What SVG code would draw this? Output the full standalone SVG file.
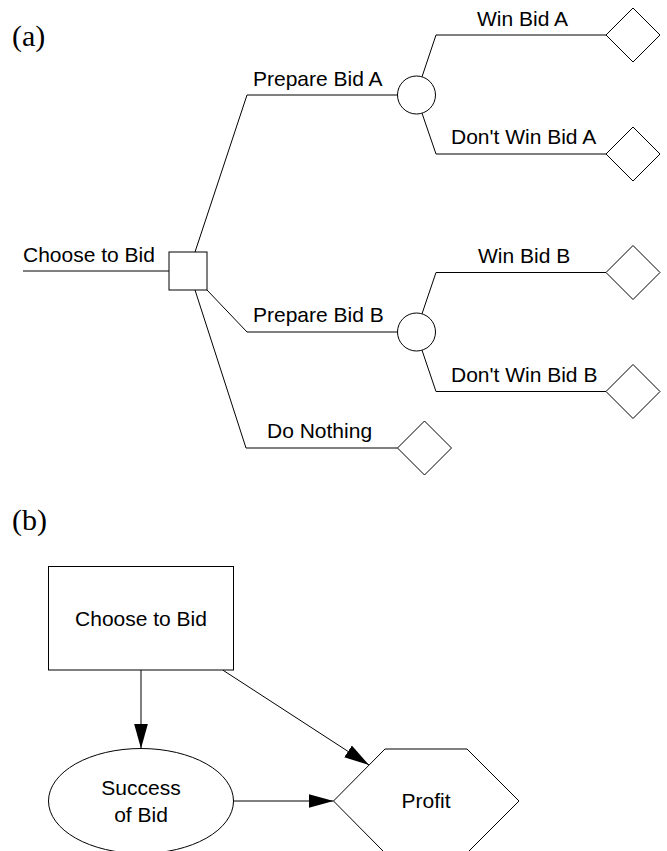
<svg xmlns="http://www.w3.org/2000/svg" width="667" height="851" viewBox="0 0 667 851">
<style>
.ln{fill:none;stroke:#000;stroke-width:1}
.nd{fill:#fff;stroke:#000;stroke-width:1}
.t{font-family:"Liberation Sans",Arial,sans-serif;font-size:21px;fill:#000}
.tc{font-family:"Liberation Sans",Arial,sans-serif;font-size:21px;fill:#000;text-anchor:middle}
.lab{font-family:"Liberation Serif","Times New Roman",serif;font-size:30px;fill:#000}
</style>
<defs>
<marker id="ah" markerUnits="userSpaceOnUse" markerWidth="26" markerHeight="16" refX="25" refY="7" orient="auto">
<path d="M0,0 L25,7 L0,14 Z" fill="#000"/>
</marker>
</defs>
<rect width="667" height="851" fill="#fff"/>
<text class="lab" x="12" y="46">(a)</text>
<text class="lab" x="12" y="530">(b)</text>
<g id="connectors">
<path class="ln" d="M23,271 H169"/>
<path class="ln" d="M195,252 L247,95 H397.5"/>
<path class="ln" d="M207,290 L247,332 H397.5"/>
<path class="ln" d="M195,290 L246,448 H397.5"/>
<path class="ln" d="M422,76.8 L436,35 H606"/>
<path class="ln" d="M422,113.2 L436,154 H606"/>
<path class="ln" d="M422,313.8 L436,272.5 H606"/>
<path class="ln" d="M422,350.2 L436,391.5 H606"/>
<path class="ln" d="M141,670 V748.5" marker-end="url(#ah)"/>
<path class="ln" d="M233.5,801 H333.5" marker-end="url(#ah)"/>
<path class="ln" d="M222.7,670 L369,765" marker-end="url(#ah)"/>
<text class="t" x="23" y="262">Choose to Bid</text>
<text class="t" x="253" y="86">Prepare Bid A</text>
<text class="t" x="253" y="322">Prepare Bid B</text>
<text class="t" x="267" y="438">Do Nothing</text>
<text class="t" x="477" y="26">Win Bid A</text>
<text class="t" x="451" y="144">Don't Win Bid A</text>
<text class="t" x="478" y="263">Win Bid B</text>
<text class="t" x="451" y="382">Don't Win Bid B</text>
</g>
<g id="decision"><rect class="nd" x="169" y="252" width="38" height="38"/></g>
<g id="chanceA"><circle class="nd" cx="416.5" cy="95" r="19"/></g>
<g id="chanceB"><circle class="nd" cx="416.5" cy="332" r="19"/></g>
<g id="endWinA"><polygon class="nd" points="606,35 633,8 660,35 633,62"/></g>
<g id="endLoseA"><polygon class="nd" points="606,154 633,127 660,154 633,181"/></g>
<g id="endWinB"><polygon class="nd" points="606,272.5 633,245.5 660,272.5 633,299.5"/></g>
<g id="endLoseB"><polygon class="nd" points="606,391.5 633,364.5 660,391.5 633,418.5"/></g>
<g id="endNothing"><polygon class="nd" points="397.5,448 424.5,421 451.5,448 424.5,475"/></g>
<g id="chooseBid"><rect class="nd" x="48.5" y="566.5" width="185" height="103.5"/><text class="tc" x="141" y="626">Choose to Bid</text></g>
<g id="success"><ellipse class="nd" cx="141" cy="801" rx="92.5" ry="52.5"/><text class="tc" x="141" y="795">Success</text><text class="tc" x="141" y="822">of Bid</text></g>
<g id="profit"><polygon class="nd" points="333.5,801 385,749 467,749 519,801 467,853 385,853"/><text class="tc" x="426" y="808">Profit</text></g>
</svg>
